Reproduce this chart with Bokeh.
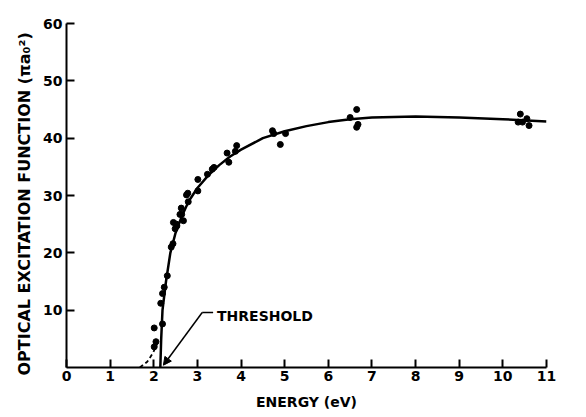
from bokeh.plotting import figure
from bokeh.models import Range1d, FixedTicker, Arrow, NormalHead, Label
from bokeh.embed import file_html
from bokeh.resources import INLINE

# measured points (energy eV, optical excitation function in pi a0^2)
energy = [2.01, 2.05, 2.01, 2.20, 2.16, 2.20, 2.24, 2.31, 2.40, 2.44, 2.49, 2.53, 2.64, 2.68, 2.79,
          2.45, 2.52, 2.60, 2.63, 2.75, 2.78, 3.01, 3.01, 3.23, 3.34, 3.38, 3.68, 3.72, 3.87, 3.90,
          4.72, 4.75, 4.90, 5.02,
          6.50, 6.65, 6.68, 6.65,
          10.40, 10.35, 10.45, 10.55, 10.60]
excitation = [3.6, 4.5, 6.9, 7.6, 11.2, 12.9, 14.0, 16.0, 21.0, 21.6, 24.2, 24.7, 26.7, 25.6, 28.9,
              25.3, 25.0, 26.7, 27.8, 30.1, 30.4, 30.8, 32.8, 33.7, 34.6, 34.9, 37.4, 35.8, 37.7, 38.7,
              41.3, 40.8, 38.9, 40.8,
              43.6, 45.0, 42.4, 41.9,
              44.2, 42.8, 42.8, 43.4, 42.2]

# smooth fitted curve
curve_x = [2.15, 2.16, 2.17, 2.20, 2.28, 2.38, 2.50, 2.65, 2.80, 3.00, 3.25, 3.50, 3.75, 4.00,
           4.50, 5.00, 5.50, 6.00, 6.50, 7.00, 8.00, 9.00, 10.00, 11.00]
curve_y = [0.0, 2.5, 5.0, 10.0, 15.0, 20.0, 23.5, 26.5, 29.0, 31.3, 33.5, 35.3, 36.8, 38.0,
           40.0, 41.2, 42.1, 42.8, 43.3, 43.6, 43.8, 43.6, 43.3, 42.9]

# dashed extrapolation below threshold
tail_x = [1.68, 1.85, 1.98, 2.08]
tail_y = [0.0, 1.0, 2.5, 4.2]

x_ticks = list(range(0, 12))
y_ticks = [10, 20, 30, 40, 50, 60]

FONT = "DejaVu Sans"

p = figure(width=576, height=412, output_backend="svg", toolbar_location=None,
           x_range=Range1d(0, 11), y_range=Range1d(0, 60),
           min_border_left=66, min_border_right=30, min_border_top=23, min_border_bottom=40)
p.outline_line_color = None
p.grid.visible = False

for ax in (p.xaxis[0], p.yaxis[0]):
    ax.axis_line_width = 2
    ax.major_tick_line_width = 2
    ax.major_tick_in = 8
    ax.major_tick_out = 0
    ax.minor_tick_line_color = None
    ax.major_label_text_font = FONT
    ax.major_label_text_font_style = "bold"
    ax.major_label_text_font_size = "14px"
    ax.major_label_text_color = "black"
    ax.axis_label_text_font = FONT
    ax.axis_label_text_font_style = "bold"
    ax.axis_label_text_color = "black"

p.xaxis.ticker = FixedTicker(ticks=x_ticks)
p.yaxis.ticker = FixedTicker(ticks=y_ticks)
p.xaxis.major_label_standoff = 3
p.yaxis.major_label_standoff = 4
p.xaxis.axis_label = "ENERGY (eV)"
p.yaxis.axis_label = "OPTICAL  EXCITATION  FUNCTION  (πa₀²)"
p.xaxis.axis_label_text_font_size = "14px"
p.yaxis.axis_label_text_font_size = "16px"
p.xaxis.axis_label_standoff = 10
p.yaxis.axis_label_standoff = 6

p.line(curve_x, curve_y, line_color="black", line_width=2.5)
p.line(tail_x, tail_y, line_color="black", line_width=1.8, line_dash="4 3")
p.scatter(energy, excitation, size=6, color="black")

# threshold annotation
lead_x = [3.11, 3.36]
lead_y = [9.6, 9.6]
p.line(lead_x, lead_y, line_color="black", line_width=1.5)
p.add_layout(Arrow(end=NormalHead(size=8, fill_color="black", line_color="black"),
                   x_start=3.11, y_start=9.6, x_end=2.22, y_end=0.4,
                   line_color="black", line_width=1.5))
p.add_layout(Label(x=3.45, y=9.0, text="THRESHOLD", text_font=FONT, text_font_style="bold",
                   text_font_size="14px", text_baseline="middle", text_color="black"))

open("out.html", "w").write(file_html(p, INLINE))
